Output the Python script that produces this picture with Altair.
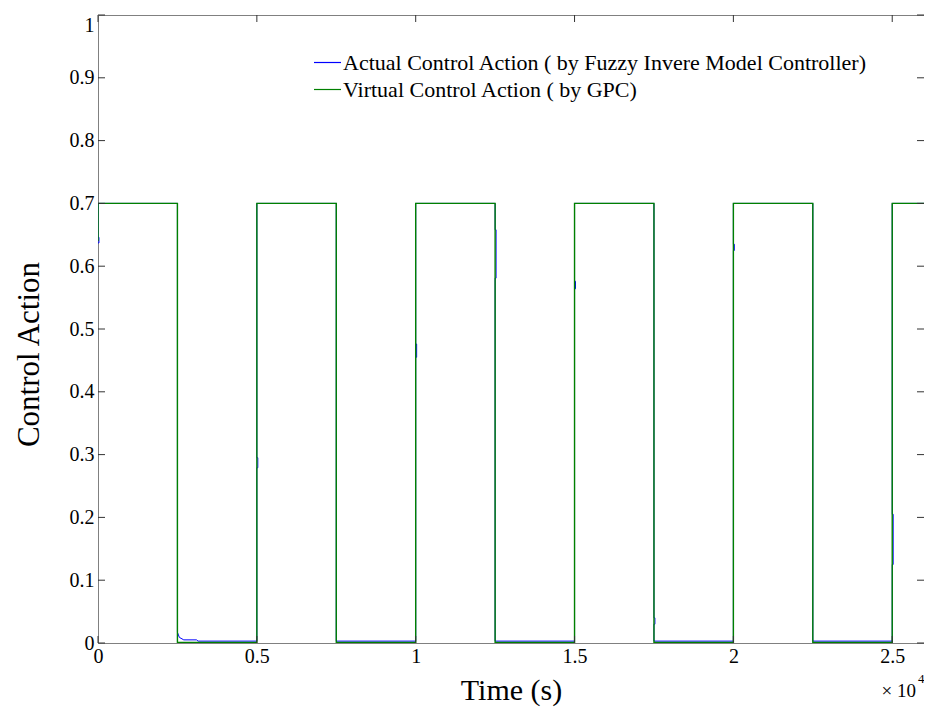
import altair as alt
import pandas as pd

SERIES = ["Actual Control Action ( by Fuzzy Invere Model Controller)",
          "Virtual Control Action ( by GPC)"]
COLORS = ["#0000ff", "#008000"]

edge_times = [0, 2500, 5000, 7500, 10000, 12500, 15000, 17500, 20000, 22500, 25000]
end_time = 26000
high_level = 0.7
green_low = 0.001
blue_low = 0.003
green_start = 0.64

# short parts of the blue trace that show beside the green edge (None = hidden)
blue_seg_lo = [0.637, None, 0.279, None, 0.455, 0.581, 0.564, 0.030, 0.625, None, 0.125]
blue_seg_hi = [0.646, None, 0.295, None, 0.476, 0.658, 0.576, 0.040, 0.635, None, 0.205]

# blue decay after the first drop
decay_t = [2500, 2560, 2700, 3100, 3150]
decay_v = [0.017, 0.009, 0.005, 0.005, 0.003]

x_ticks = [0, 5000, 10000, 15000, 20000, 25000]
y_ticks = [0.0, 0.1, 0.2, 0.3, 0.4, 0.5, 0.6, 0.7, 0.8, 0.9, 1.0]

LAG = 30  # sample lag of the actual control (s)

# ---- build green (virtual) trace
g = []
for i, t in enumerate(edge_times):
    if i == 0:
        g += [(t, green_start), (t, high_level)]
    elif i % 2 == 0:
        g += [(t, green_low), (t, high_level)]
    else:
        g += [(t, high_level), (t, green_low)]
g.append((end_time, high_level))

# ---- build blue (actual) trace
b = []
for i, t in enumerate(edge_times):
    lo, hi = blue_seg_lo[i], blue_seg_hi[i]
    rising = (i % 2 == 0)
    if i == 0:
        b += [(t, lo), (t + LAG, lo), (t + LAG, hi), (t, hi), (t, high_level)]
        continue
    if rising:
        b.append((t, blue_low))
        if lo is not None:
            b += [(t, lo), (t + LAG, lo), (t + LAG, hi), (t, hi)]
        b.append((t, high_level))
    else:
        b.append((t, high_level))
        if lo is not None:
            b += [(t, hi), (t + LAG, hi), (t + LAG, lo), (t, lo)]
        if i == 1:
            b += list(zip(decay_t, decay_v))
        else:
            b.append((t, blue_low))
b.append((end_time, high_level))

df_b = pd.DataFrame(b, columns=["t", "v"])
df_b["i"] = range(len(df_b))
df_b["series"] = SERIES[0]
df_g = pd.DataFrame(g, columns=["t", "v"])
df_g["i"] = range(len(df_g))
df_g["series"] = SERIES[1]

FONT = "Liberation Serif"
W, H = 826, 628

xscale = alt.Scale(domain=[0, end_time], nice=False, zero=False)
yscale = alt.Scale(domain=[0, 1], nice=False, zero=False)
cscale = alt.Scale(domain=SERIES, range=COLORS)

xaxis = alt.Axis(values=x_ticks, labelExpr="'' + datum.value / 10000", title="Time (s)",
                 labelFlush=False, labelPadding=3, titlePadding=9, titleFontSize=30)
yaxis = alt.Axis(values=y_ticks, format="~g", title="Control Action",
                 labelFlush=False, labelPadding=4, titlePadding=24, titleFontSize=31,
                 titleY=339,
                 labelBaseline={"expr": "datum.value >= 1 ? 'top' : 'middle'"})

legend = alt.Legend(title=None, orient="none", legendX=215, legendY=33,
                    symbolType="stroke", symbolSize=729, symbolStrokeWidth=1.2,
                    labelFont=FONT, labelFontSize=22, labelColor="black",
                    labelLimit=1000, labelOffset=1, rowPadding=1, padding=0)

color_enc = alt.Color("series:N", scale=cscale, legend=legend)
X = alt.X("t:Q", scale=xscale, axis=xaxis)
Y = alt.Y("v:Q", scale=yscale, axis=yaxis)

blue_line = alt.Chart(df_b).mark_line(strokeWidth=1.0, clip=True).encode(
    x=X, y=Y, order="i:Q", color=color_enc)
green_line = alt.Chart(df_g).mark_line(strokeWidth=1.4, clip=True).encode(
    x=X, y=Y, order="i:Q", color=color_enc)

TICK_COLOR = "#333333"
TL = 7
xt = pd.DataFrame({"t": x_ticks})
yt = pd.DataFrame({"v": y_ticks})
xt_bottom = alt.Chart(xt).mark_rule(color=TICK_COLOR).encode(
    x=X, y=alt.value(H), y2=alt.value(H - TL))
xt_top = alt.Chart(xt).mark_rule(color=TICK_COLOR).encode(
    x=X, y=alt.value(0), y2=alt.value(TL))
yt_left = alt.Chart(yt).mark_rule(color=TICK_COLOR).encode(
    y=Y, x=alt.value(0), x2=alt.value(TL))
yt_right = alt.Chart(yt).mark_rule(color=TICK_COLOR).encode(
    y=Y, x=alt.value(W), x2=alt.value(W - TL))

exp_df = pd.DataFrame({"base": ["× 10"], "sup": ["4"]})
exp_base = alt.Chart(exp_df).mark_text(font=FONT, fontSize=19, align="right",
                                       baseline="alphabetic", color="black").encode(
    text="base:N", x=alt.value(W - 8), y=alt.value(H + 54))
exp_sup = alt.Chart(exp_df).mark_text(font=FONT, fontSize=13, align="left",
                                      baseline="alphabetic", color="black").encode(
    text="sup:N", x=alt.value(W - 6), y=alt.value(H + 40))

chart = alt.layer(
    blue_line, green_line, xt_bottom, xt_top, yt_left, yt_right, exp_base, exp_sup
).properties(
    width=W, height=H,
    autosize=alt.AutoSizeParams(type="none"),
    padding={"left": 90, "top": 7, "right": 0, "bottom": 68},
    background="white",
).configure_view(
    stroke="#808080", strokeWidth=1
).configure_axis(
    ticks=False, domain=False, grid=False, labelOverlap=False,
    labelFont=FONT, labelFontSize=20, labelColor="black",
    titleFont=FONT, titleFontWeight="normal", titleColor="black",
)

chart.save("out.html", embed_options={"renderer": "svg", "actions": False})
